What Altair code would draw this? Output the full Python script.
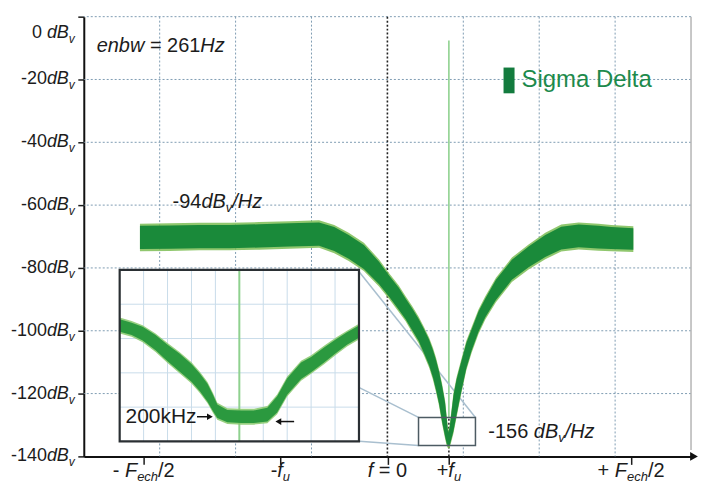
import altair as alt
import pandas as pd

# ---------------- values ----------------
# main spectrum: frequency in grid divisions (f = 0 at 0), mean level (dB_v), half-width of noise band (dB)
freq = [-3.26, -2.87, -2.48, -2.08, -1.69, -1.29, -0.90, -0.70, -0.51, -0.31, -0.11,
        0.02, 0.15, 0.24, 0.33, 0.41, 0.48, 0.55, 0.60, 0.64, 0.68, 0.72, 0.76, 0.78, 0.80,
        0.82, 0.87, 0.91, 0.97, 1.04, 1.11, 1.20, 1.29, 1.43, 1.64, 1.86, 2.08, 2.29, 2.52,
        2.78, 2.95, 3.24]
level = [-70.3, -70.2, -70.0, -70.0, -69.8, -69.5, -69.2, -70.8, -73.3, -76.5, -81.6,
         -85.7, -89.8, -93.0, -96.5, -99.7, -103.2, -107.0, -110.5, -114.0, -118.1, -123.2, -128.3, -131.7, -134.6,
         -133.7, -126.3, -121.3, -114.9, -107.9, -102.9, -97.1, -92.7, -87.0, -80.6, -76.5, -73.0, -70.5, -69.8,
         -70.2, -70.5, -70.8]
spread = [3.7, 3.7, 3.7, 3.7, 3.7, 3.7, 3.7, 3.8, 3.8, 3.8, 3.6,
          3.4, 3.5, 3.3, 3.5, 3.5, 3.8, 4.1, 4.4, 4.8, 5.1, 5.7, 5.4, 4.1, 2.2,
          2.9, 5.7, 5.7, 4.8, 4.0, 3.4, 3.2, 3.0, 3.2, 3.2, 3.3, 3.5, 3.6, 3.6,
          3.6, 3.5, 3.4]

# zoomed inset around +f_u: offset in kHz, level in dB_v/Hz, half-width in dB
inset_khz = [-500, -450, -404, -350, -300, -250, -200, -165, -133, -110, -92, -50,
             8, 60, 117, 158, 200, 258, 300, 354, 404, 450, 500]
inset_level = [-143.1, -143.6, -144.3, -145.6, -147.1, -148.5, -150.0, -151.4, -152.9, -154.4, -155.6, -156.3,
               -156.4, -156.4, -156.1, -154.6, -152.0, -149.7, -148.8, -147.4, -146.1, -145.0, -144.0]
inset_spread = [0.9, 0.9, 1.0, 1.1, 1.2, 1.3, 1.3, 1.3, 1.3, 1.2, 1.0, 0.9,
                0.9, 0.9, 1.0, 1.2, 1.2, 1.2, 1.1, 1.1, 1.0, 0.9, 0.9]

y_ticks = [0, -20, -40, -60, -80, -100, -120, -140]
y_grid = [0, -20, -40, -60, -80, -100, -120]
x_grid = [-3, -2, -1, 1, 2, 3]
x_ticks = [-3.21, -1.41, 0.0, 0.81, 3.21]
fu = 0.81
inset_xgrid = [-400, -300, -200, -100, 100, 200, 300, 400]
inset_ygrid = [-155, -150, -145, -140]

# zoom box on main chart and its connection lines
zoom_box = dict(x=[0.41], x2=[1.16], y=[-127.6], y2=[-136.5])
link_x = [-0.37, -0.37, -0.37]
link_y = [-81.3, -118.1, -135.2]
link_x2 = [1.16, 0.41, 0.41]
link_y2 = [-127.6, -127.6, -136.5]

# ---------------- styling ----------------
FONT = "Liberation Sans"
INK = "#1c1c1c"
GRID = "#7f9db3"
GREEN = "#1a8a3a"
FUZZ = "#7dbd55"

W, H = 609, 441
XS = alt.Scale(domain=[-4, 4], nice=False, zero=False)
YS = alt.Scale(domain=[-140, 0], nice=False, zero=False)
AX = alt.Axis(values=x_ticks, labels=False, grid=False, title=None, tickSize=8, tickWidth=1.5,
              tickColor=INK, domainColor="#111111", domainWidth=2)
AY = alt.Axis(values=y_ticks, labels=False, grid=False, title=None, tickSize=6, tickWidth=1.5,
              tickColor=INK, domainColor="#111111", domainWidth=2)
IXS = alt.Scale(domain=[-500, 500], range=[36, 276], nice=False, zero=False)
IYS = alt.Scale(domain=[-160, -135], range=[426, 254], nice=False, zero=False)


def mx(f="x"):
    return alt.X(f"{f}:Q", scale=XS, axis=AX)


def my(f="y"):
    return alt.Y(f"{f}:Q", scale=YS, axis=AY)


def ix(f="x"):
    return alt.X(f"{f}:Q", scale=IXS, axis=None)


def iy(f="y"):
    return alt.Y(f"{f}:Q", scale=IYS, axis=None)


ADV = {" ": 278, "-": 333, "+": 584, "=": 584, "/": 278,
       "a": 556, "b": 556, "c": 500, "d": 556, "e": 556, "f": 278, "g": 556, "h": 556,
       "i": 222, "k": 500, "l": 222, "m": 833, "n": 556, "t": 278, "u": 556, "v": 500,
       "w": 722, "z": 500, "B": 667, "D": 722, "F": 611, "H": 722, "S": 667}


def tw(s, size):
    return sum(ADV.get(c, 556) for c in s) * size / 1000.0


def rich(xv, yv, parts, anchor="left", dy0=0, color=INK, inset=False):
    total = sum(tw(t, s) for t, s, _, _ in parts)
    off = {"left": 0, "center": -total / 2, "right": -total}[anchor]
    out = []
    for t, s, it, dy in parts:
        body = t.strip()
        lead = len(t) - len(t.lstrip())
        if body:
            c = alt.Chart(pd.DataFrame({"x": [xv], "y": [yv]})).mark_text(
                text=body, align="left", baseline="middle", dx=off + tw(" " * lead, s), dy=dy0 + dy,
                fontSize=s, fontStyle="italic" if it else "normal", font=FONT, color=color)
            if inset:
                c = c.encode(x=ix(), y=iy())
            else:
                c = c.encode(x=mx(), y=my())
            out.append(c)
        off += tw(t, s)
    return out


main = []
# grid
main.append(alt.Chart(pd.DataFrame({"y": y_grid})).mark_rule(
    color=GRID, strokeDash=[2, 2], strokeWidth=1).encode(y=my()))
main.append(alt.Chart(pd.DataFrame({"x": x_grid})).mark_rule(
    color=GRID, strokeDash=[2, 2], strokeWidth=1).encode(x=mx()))
main.append(alt.Chart(pd.DataFrame({"x": [0.0]})).mark_rule(
    color="#222222", strokeDash=[2, 2], strokeWidth=1.6).encode(x=mx()))
main.append(alt.Chart(pd.DataFrame({"x": [4.0], "y": [0.0], "y2": [-138.0]})).mark_rule(
    color="#b5b5b5", strokeWidth=1.5).encode(x=mx(), y=my(), y2="y2:Q"))
# green marker line at +f_u
main.append(alt.Chart(pd.DataFrame({"x": [fu], "y": [-7.6], "y2": [-127.6]})).mark_rule(
    color="#8fd18f", strokeWidth=1.6).encode(x=mx(), y=my(), y2="y2:Q"))
# connection lines to inset
main.append(alt.Chart(pd.DataFrame({"x": link_x, "y": link_y, "x2": link_x2, "y2": link_y2})).mark_rule(
    color="#a9bfcf", strokeWidth=1.5).encode(x=mx(), y=my(), x2="x2:Q", y2="y2:Q"))
# zoom box fill
zb = pd.DataFrame(zoom_box)
main.append(alt.Chart(zb).mark_rect(fill="white").encode(x=mx(), y=my(), x2="x2:Q", y2="y2:Q"))
main.append(alt.Chart(pd.DataFrame({"x": [fu], "y": [-128.0], "y2": [-140.0]})).mark_rule(
    color="#222222", strokeDash=[2, 2], strokeWidth=1.5).encode(x=mx(), y=my(), y2="y2:Q"))

# noise band
band = pd.DataFrame({"x": freq, "lvl": level, "sp": spread})
band["hi"] = band.lvl + band.sp
band["lo"] = band.lvl - band.sp
band["hi2"] = band.hi + 0.7
band["lo2"] = band.lo - 0.7
main.append(alt.Chart(band).mark_area(color=FUZZ, opacity=0.85).encode(x=mx(), y=my("hi2"), y2="lo2:Q"))
main.append(alt.Chart(band).mark_area(color=GREEN).encode(x=mx(), y=my("hi"), y2="lo:Q"))

main.append(alt.Chart(zb).mark_rect(fill=None, stroke="#4d5b63", strokeWidth=1.5).encode(
    x=mx(), y=my(), x2="x2:Q", y2="y2:Q"))

# y axis labels
ylab = pd.DataFrame({"y": y_ticks[1:], "t": [str(v) for v in y_ticks[1:]]})
main.append(alt.Chart(ylab).mark_text(align="right", baseline="middle", fontSize=18, font=FONT, color=INK).encode(
    y=my(), x=alt.value(-37), text="t:N"))
main.append(alt.Chart(ylab).mark_text(align="left", baseline="middle", fontSize=18, font=FONT, fontStyle="italic",
                                      color=INK, text="dB").encode(y=my(), x=alt.value(-37)))
main.append(alt.Chart(ylab).mark_text(align="left", baseline="middle", fontSize=12, font=FONT, fontStyle="italic",
                                      color=INK, text="v", dy=6).encode(y=my(), x=alt.value(-15)))
z0 = pd.DataFrame({"y": [0]})
main.append(alt.Chart(z0).mark_text(align="right", baseline="middle", fontSize=18, font=FONT, color=INK,
                                    text="0", dy=16, dx=-tw(" ", 18)).encode(y=my(), x=alt.value(-37)))
main.append(alt.Chart(z0).mark_text(align="left", baseline="middle", fontSize=18, font=FONT, fontStyle="italic",
                                    color=INK, text="dB", dy=16).encode(y=my(), x=alt.value(-37)))
main.append(alt.Chart(z0).mark_text(align="left", baseline="middle", fontSize=12, font=FONT, fontStyle="italic",
                                    color=INK, text="v", dy=22).encode(y=my(), x=alt.value(-15)))

# x axis labels
xparts = [
    [("- ", 20, False, 0), ("F", 20, True, 0), ("ech", 13, True, 6), ("/2", 20, False, 0)],
    [("-", 20, False, 0), ("f", 20, True, 0), ("u", 13, True, 6)],
    [("f", 20, True, 0), (" = 0", 20, False, 0)],
    [("+", 20, False, 0), ("f", 20, True, 0), ("u", 13, True, 6)],
    [("+ ", 20, False, 0), ("F", 20, True, 0), ("ech", 13, True, 6), ("/2", 20, False, 0)],
]
for xv, parts in zip(x_ticks, xparts):
    main += rich(xv, -140, parts, anchor="center", dy0=15)

# axis arrow head
main.append(alt.Chart(pd.DataFrame({"a": [0]})).mark_point(
    shape="triangle-right", filled=True, size=80, color="#111111", opacity=1).encode(
    x=alt.value(612), y=alt.value(441)))

# annotations
main += rich(-3.83, -9.2, [("enbw", 20, True, 0), (" = ", 20, False, 0), ("261", 20, False, 0), ("Hz", 20, True, 0)])
main += rich(-2.83, -60.0, [("-94", 20, False, 0), ("dB", 20, True, 0), ("v", 13, True, 6), ("/Hz", 20, True, 0)], dy0=-3)
main += rich(1.33, -132.1, [("-156 ", 20, False, 0), ("dB", 20, True, 0), ("v", 13, True, 6), ("/Hz", 20, True, 0)])

# legend
main.append(alt.Chart(pd.DataFrame({"x": [1.53], "x2": [1.675], "y": [-16.2], "y2": [-24.4]})).mark_rect(
    color="#137b3e").encode(x=mx(), y=my(), x2="x2:Q", y2="y2:Q"))
main += rich(1.767, -20.3, [("Sigma Delta", 24, False, 0)], color="#1d8a4c")

# ---------------- inset ----------------
ins = []
ibox = pd.DataFrame({"x": [-500], "x2": [500], "y": [-160], "y2": [-135]})
ins.append(alt.Chart(ibox).mark_rect(fill="white").encode(x=ix(), y=iy(), x2="x2:Q", y2="y2:Q"))
ins.append(alt.Chart(pd.DataFrame({"x": inset_xgrid, "y": -160, "y2": -135})).mark_rule(
    color="#c9dcea", strokeWidth=1).encode(x=ix(), y=iy(), y2="y2:Q"))
ins.append(alt.Chart(pd.DataFrame({"y": inset_ygrid, "x": -500, "x2": 500})).mark_rule(
    color="#c9dcea", strokeWidth=1).encode(x=ix(), x2="x2:Q", y=iy()))
ins.append(alt.Chart(pd.DataFrame({"x": [0], "y": [-160], "y2": [-135]})).mark_rule(
    color="#8fd18f", strokeWidth=2).encode(x=ix(), y=iy(), y2="y2:Q"))
ib = pd.DataFrame({"x": inset_khz, "lvl": inset_level, "sp": inset_spread})
ib["hi"] = ib.lvl + ib.sp
ib["lo"] = ib.lvl - ib.sp
ib["hi2"] = ib.hi + 0.25
ib["lo2"] = ib.lo - 0.25
ins.append(alt.Chart(ib).mark_area(color="#86c86a", opacity=0.85).encode(x=ix(), y=iy("hi2"), y2="lo2:Q"))
ins.append(alt.Chart(ib).mark_area(color="#2b993f").encode(x=ix(), y=iy("hi"), y2="lo:Q"))
ins.append(alt.Chart(ibox).mark_rect(fill=None, stroke="#2a2f33", strokeWidth=2.2).encode(
    x=ix(), y=iy(), x2="x2:Q", y2="y2:Q"))
# 200 kHz arrows
ins.append(alt.Chart(pd.DataFrame({"x": [-177], "x2": [-125], "y": [-156.4]})).mark_rule(
    color="#111111", strokeWidth=1.5).encode(x=ix(), x2="x2:Q", y=iy()))
ins.append(alt.Chart(pd.DataFrame({"x": [-123], "y": [-156.4]})).mark_point(
    shape="triangle-right", filled=True, size=45, color="#111111", opacity=1).encode(x=ix(), y=iy()))
ins.append(alt.Chart(pd.DataFrame({"x": [165], "x2": [229], "y": [-157.1]})).mark_rule(
    color="#111111", strokeWidth=1.5).encode(x=ix(), x2="x2:Q", y=iy()))
ins.append(alt.Chart(pd.DataFrame({"x": [163], "y": [-157.1]})).mark_point(
    shape="triangle-left", filled=True, size=45, color="#111111", opacity=1).encode(x=ix(), y=iy()))
ins += rich(-179, -156.4, [("200kHz", 21, False, 0)], anchor="right", inset=True)

chart = alt.layer(alt.layer(*main), alt.layer(*ins)).resolve_scale(
    x="independent", y="independent"
).properties(
    width=W, height=H,
    autosize=alt.AutoSizeParams(type="none"),
    padding={"left": 76, "top": 8, "right": 8, "bottom": 27},
    background="white",
).configure_view(stroke=None)

chart.save("out.html", embed_options={"renderer": "svg", "actions": False})
